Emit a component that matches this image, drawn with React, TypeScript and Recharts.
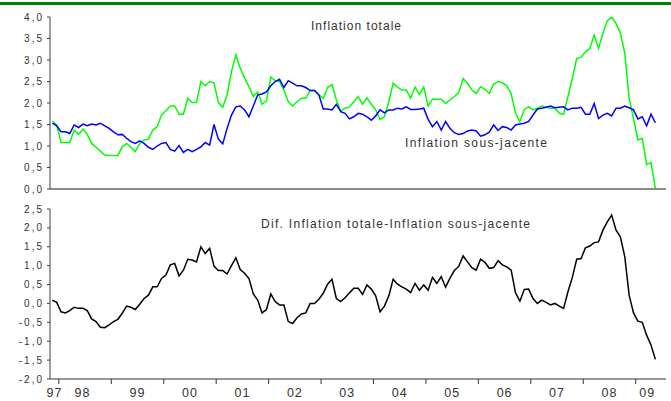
import React from 'react';
import { LineChart, Line, XAxis, YAxis, ReferenceLine } from 'recharts';

// Monthly series, November 1997 -> May 2009
const START_YEAR = 1997;
const START_MONTH = 11;

const inflationTotale = [
  1.58, 1.49, 1.08, 1.08, 1.08, 1.37, 1.27, 1.39, 1.27, 1.06,
  0.97, 0.88, 0.79, 0.78, 0.78, 0.78, 0.98, 1.06, 0.97, 0.87,
  1.06, 1.14, 1.16, 1.37, 1.45, 1.72, 1.82, 1.93, 1.93, 1.74,
  1.74, 2.11, 2.01, 2.01, 2.50, 2.40, 2.50, 2.47, 2.01, 1.90,
  2.19, 2.73, 3.12, 2.81, 2.58, 2.38, 2.15, 2.26, 1.97, 2.05,
  2.60, 2.52, 2.50, 2.30, 2.03, 1.93, 2.03, 2.11, 2.11, 2.29,
  2.29, 2.19, 2.11, 2.36, 2.43, 2.07, 1.81, 1.88, 1.91, 2.03,
  2.15, 1.97, 2.12, 1.97, 1.84, 1.62, 1.68, 2.03, 2.46, 2.37,
  2.30, 2.30, 2.11, 2.37, 2.20, 2.37, 1.93, 2.09, 2.09, 2.09,
  1.99, 2.07, 2.15, 2.24, 2.57, 2.46, 2.30, 2.22, 2.38, 2.32,
  2.22, 2.44, 2.50, 2.47, 2.40, 2.22, 1.76, 1.57, 1.85, 1.91,
  1.84, 1.88, 1.93, 1.90, 1.88, 1.88, 1.76, 1.74, 2.15, 2.57,
  3.04, 3.06, 3.19, 3.27, 3.58, 3.27, 3.62, 3.91, 4.00, 3.85,
  3.62, 3.16, 2.11, 1.64, 1.14, 1.18, 0.57, 0.61, 0.02,
];

const inflationSousJacente = [
  1.53, 1.47, 1.33, 1.33, 1.29, 1.49, 1.43, 1.51, 1.47, 1.51,
  1.49, 1.53, 1.47, 1.41, 1.33, 1.26, 1.27, 1.18, 1.10, 1.06,
  1.12, 1.06, 0.97, 0.92, 1.00, 1.06, 1.08, 0.92, 0.88, 1.01,
  0.85, 0.92, 0.87, 0.92, 0.98, 1.08, 1.02, 1.50, 1.16, 1.05,
  1.41, 1.72, 1.91, 1.93, 1.84, 1.68, 1.93, 2.19, 2.21, 2.26,
  2.40, 2.50, 2.55, 2.36, 2.52, 2.46, 2.40, 2.40, 2.36, 2.29,
  2.29, 2.19, 1.86, 1.86, 1.84, 1.97, 1.80, 1.76, 1.63, 1.68,
  1.76, 1.74, 1.68, 1.60, 1.70, 1.84, 1.77, 1.84, 1.84, 1.88,
  1.86, 1.91, 1.85, 1.85, 1.86, 1.88, 1.62, 1.45, 1.57, 1.37,
  1.57, 1.41, 1.31, 1.27, 1.29, 1.35, 1.37, 1.35, 1.23, 1.26,
  1.32, 1.49, 1.36, 1.45, 1.43, 1.37, 1.49, 1.51, 1.53, 1.57,
  1.72, 1.86, 1.88, 1.90, 1.93, 1.89, 1.90, 1.91, 1.84, 1.88,
  1.88, 1.90, 1.74, 1.74, 1.99, 1.64, 1.72, 1.76, 1.70, 1.88,
  1.88, 1.93, 1.89, 1.84, 1.63, 1.68, 1.47, 1.74, 1.54,
];

const difference = [
  0.09, 0.03, -0.22, -0.25, -0.19, -0.10, -0.13, -0.13, -0.19, -0.41,
  -0.48, -0.63, -0.64, -0.57, -0.48, -0.42, -0.26, -0.07, -0.10, -0.16,
  -0.02, 0.13, 0.22, 0.44, 0.44, 0.66, 0.75, 1.02, 1.06, 0.73,
  0.88, 1.17, 1.15, 1.10, 1.50, 1.32, 1.46, 0.99, 0.87, 0.87,
  0.78, 1.00, 1.21, 0.90, 0.80, 0.66, 0.25, 0.09, -0.25, -0.16,
  0.25, 0.05, -0.04, -0.04, -0.48, -0.53, -0.38, -0.28, -0.25, 0.00,
  0.00, 0.11, 0.27, 0.51, 0.64, 0.13, 0.05, 0.15, 0.28, 0.40,
  0.40, 0.24, 0.49, 0.38, 0.20, -0.22, -0.07, 0.20, 0.64, 0.51,
  0.44, 0.38, 0.29, 0.53, 0.35, 0.49, 0.35, 0.69, 0.53, 0.71,
  0.43, 0.67, 0.87, 0.98, 1.26, 1.10, 0.95, 0.88, 1.17, 1.09,
  0.93, 0.95, 1.13, 1.02, 0.97, 0.88, 0.28, 0.06, 0.37, 0.38,
  0.13, 0.00, 0.09, 0.03, -0.04, 0.00, -0.07, -0.13, 0.31, 0.69,
  1.17, 1.19, 1.47, 1.52, 1.61, 1.63, 1.94, 2.16, 2.34, 1.94,
  1.76, 1.24, 0.22, -0.25, -0.47, -0.50, -0.84, -1.10, -1.48,
];

const topTicks = [0, 0.5, 1, 1.5, 2, 2.5, 3, 3.5, 4];
const bottomTicks = [-2, -1.5, -1, -0.5, 0, 0.5, 1, 1.5, 2, 2.5];
const yearBoundaries = [1998, 1999, 2000, 2001, 2002, 2003, 2004, 2005, 2006, 2007, 2008, 2009];
const yearLabels = ['97', '98', '99', '00', '01', '02', '03', '04', '05', '06', '07', '08', '09'];
const yearLabelPositions = [1997.915, 1998.45, 1999.5, 2000.5, 2001.5, 2002.5, 2003.5, 2004.5, 2005.5, 2006.5, 2007.5, 2008.5, 2009.22];

const X_DOMAIN: [number, number] = [1997.831, 2009.578];

const rows = inflationTotale.map((v, i) => ({
  t: START_YEAR + (START_MONTH - 1 + i + 0.5) / 12,
  totale: v,
  sousJacente: inflationSousJacente[i],
  dif: difference[i],
}));

const fmt = (v: number) => v.toFixed(1).replace('.', ',');

const YTick = (props: any) => {
  const { x, y, payload } = props;
  return (
    <text x={x} y={y} dy={3.6} textAnchor="end" fontSize={10} fill="#333" letterSpacing={2}
      fontFamily='"Liberation Sans", Arial, sans-serif'>
      {fmt(payload.value)}
    </text>
  );
};

const YearTick = (props: any) => {
  const { x, y, payload } = props;
  const v = payload.value;
  if (yearBoundaries.indexOf(v) >= 0) {
    return <line x1={x} x2={x} y1={y} y2={y + 5} stroke="#333" strokeWidth={1} />;
  }
  const li = yearLabelPositions.indexOf(v);
  return (
    <text x={x} y={y + 18} textAnchor="middle" fontSize={12.5} fill="#333" letterSpacing={1}
      fontFamily='"Liberation Sans", Arial, sans-serif'>
      {li >= 0 ? yearLabels[li] : ''}
    </text>
  );
};

const allXTicks = [...yearBoundaries, ...yearLabelPositions].sort((a, b) => a - b);

export default function App() {
  return (
    <div style={{ position: 'absolute', left: 0, top: 0, width: 671, height: 401, background: '#fff', overflow: 'hidden', fontFamily: '"Liberation Sans", Arial, sans-serif' }}>
      <div style={{ position: 'absolute', left: 0, top: 2, width: 671, height: 3, background: '#008000' }} />
      <div style={{ position: 'absolute', left: 0, top: 0 }}>
        <LineChart width={671} height={200} data={rows} margin={{ top: 17, right: 5, bottom: 11, left: 0 }}>
          <XAxis dataKey="t" type="number" domain={X_DOMAIN} hide allowDataOverflow />
          <YAxis type="number" domain={[0, 4]} ticks={topTicks} interval={0} width={50} allowDataOverflow
            axisLine={{ stroke: '#404040' }} tickLine={{ stroke: '#404040' }} tickSize={3} tickMargin={3} tick={<YTick />} />
          <ReferenceLine y={0} stroke="#8c8c8c" strokeWidth={2} ifOverflow="extendDomain" />
          <Line type="linear" dataKey="totale" stroke="#00ff00" strokeWidth={1.5} dot={false} isAnimationActive={false} />
          <Line type="linear" dataKey="sousJacente" stroke="#0000ff" strokeWidth={1.5} dot={false} isAnimationActive={false} />
        </LineChart>
      </div>
      <div style={{ position: 'absolute', left: 0, top: 190 }}>
        <LineChart width={671} height={211} data={rows} margin={{ top: 19, right: 5, bottom: 0, left: 0 }}>
          <XAxis dataKey="t" type="number" domain={X_DOMAIN} allowDataOverflow ticks={allXTicks} interval={0}
            height={22} tickLine={false} tickSize={0} tickMargin={0} axisLine={{ stroke: '#333' }} tick={<YearTick />} />
          <YAxis type="number" domain={[-2, 2.5]} ticks={bottomTicks} interval={0} width={50} allowDataOverflow
            axisLine={{ stroke: '#404040' }} tickLine={{ stroke: '#404040' }} tickSize={3} tickMargin={3} tick={<YTick />} />
          <Line type="linear" dataKey="dif" stroke="#000000" strokeWidth={1.5} dot={false} isAnimationActive={false} />
        </LineChart>
      </div>
      <svg width={671} height={401} style={{ position: 'absolute', left: 0, top: 0, pointerEvents: 'none' }}>
        <g fontFamily='"Liberation Sans", Arial, sans-serif' fontSize={12} fill="#333">
          <text x={311} y={29.5} textLength={90} lengthAdjust="spacing">Inflation totale</text>
          <text x={405} y={146.5} textLength={142} lengthAdjust="spacing">Inflation sous-jacente</text>
          <text x={261} y={228} textLength={269} lengthAdjust="spacing">Dif. Inflation totale-Inflation sous-jacente</text>
        </g>
      </svg>
    </div>
  );
}
